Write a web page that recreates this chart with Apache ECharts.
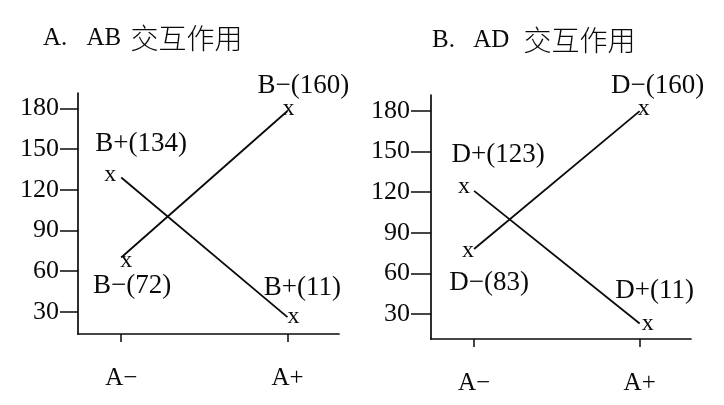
<!DOCTYPE html>
<html>
<head>
<meta charset="utf-8">
<script src="https://cdn.jsdelivr.net/npm/echarts@6/dist/echarts.min.js"></script>
<style>
html,body{margin:0;padding:0;background:#fff;}
#c{width:724px;height:405px;}
</style>
</head>
<body>
<div id="c"></div>
<script>
// ---- data ----
const categories = ['A−', 'A+'];
const yTicks = [30, 60, 90, 120, 150, 180];
const titleA = ['A. ', 'AB ', '交互作用'];
const titleB = ['B. ', 'AD ', '交互作用'];
const abBplus = [129, 26];
const abBminus = [70, 178];
const adDplus = [121, 23];
const adDminus = [78, 180];
const abBplusNotes = ['B+(134)', 'B+(11)'];
const abBminusNotes = ['B−(72)', 'B−(160)'];
const adDplusNotes = ['D+(123)', 'D+(11)'];
const adDminusNotes = ['D−(83)', 'D−(160)'];

// ---- styling helpers ----
const SERIF = 'Liberation Serif';
const CJK = 'Noto Sans CJK SC';
const INK = '#0a0a0a';

function lineSeries(idx, values, markerOffsets) {
  return {
    type: 'line', xAxisIndex: idx, yAxisIndex: idx,
    symbol: 'circle', symbolSize: 1, silent: true, animation: false,
    itemStyle: { color: 'transparent' },
    lineStyle: { color: INK, width: 1.8 },
    label: { show: true, position: 'inside', formatter: 'x', color: INK,
             fontFamily: SERIF, fontSize: 24 },
    data: values.map((v, i) => ({ value: [i, v], label: { offset: markerOffsets[i] } }))
  };
}
function noteSeries(idx, values, notes, noteOffsets) {
  return {
    type: 'scatter', xAxisIndex: idx, yAxisIndex: idx,
    symbolSize: 1, silent: true, animation: false,
    itemStyle: { color: 'transparent' },
    label: { show: true, position: 'inside', color: INK, opacity: 1,
             fontFamily: SERIF, fontSize: 27,
             formatter: p => notes[p.dataIndex] },
    data: values.map((v, i) => ({ value: [i, v], label: { offset: noteOffsets[i] } }))
  };
}
function xAxis(idx) {
  return {
    type: 'value', gridIndex: idx, min: -0.26, max: 1.31,
    splitLine: { show: false },
    axisLine: { show: true, onZero: false, lineStyle: { color: INK, width: 1.7 } },
    axisTick: { show: true, customValues: [0, 1], length: 8, lineStyle: { color: INK, width: 1.5 } },
    axisLabel: { customValues: [0, 1], margin: 32, color: INK, fontFamily: SERIF, fontSize: 25,
                 formatter: v => categories[Math.round(v)] }
  };
}
function yAxis(idx, min, max, margin) {
  return {
    type: 'value', gridIndex: idx, min: min, max: max,
    splitLine: { show: false },
    axisLine: { show: true, onZero: false, lineStyle: { color: INK, width: 1.7 } },
    axisTick: { show: true, customValues: yTicks, length: margin, lineStyle: { color: INK, width: 1.5 } },
    axisLabel: { customValues: yTicks, margin: margin + 1, color: INK, fontFamily: SERIF, fontSize: 26 }
  };
}
function title(parts, left, top, gap1, gap2) {
  return {
    left: left, top: top, padding: 0,
    text: '{a|' + parts[0] + '}{b|' + parts[1] + '}{c|' + parts[2] + '}',
    textStyle: {
      fontWeight: 'normal',
      rich: {
        a: { fontFamily: SERIF, fontSize: 25, color: INK, fontWeight: 'normal' },
        b: { fontFamily: SERIF, fontSize: 25, color: INK, fontWeight: 'normal', padding: [0, 0, 0, gap1] },
        c: { fontFamily: CJK, fontSize: 28, color: INK, fontWeight: 300, padding: [0, 0, 0, gap2] }
      }
    }
  };
}

const chart = echarts.init(document.getElementById('c'));
chart.setOption({
  backgroundColor: '#fff',
  animation: false,
  title: [title(titleA, 43, 24, 13, 3), title(titleB, 432, 26, 12, 8)],
  grid: [
    { left: 78, top: 93, width: 261, height: 241 },
    { left: 431, top: 95, width: 260, height: 244 }
  ],
  xAxis: [xAxis(0), xAxis(1)],
  yAxis: [yAxis(0, 13.6, 191.3, 18), yAxis(1, 11.5, 191.9, 20)],
  series: [
    lineSeries(0, abBplus, [[-11, -3], [6, 0]]),
    lineSeries(0, abBminus, [[5, 3], [1, -2]]),
    lineSeries(1, adDplus, [[-10, -4], [8, 0]]),
    lineSeries(1, adDminus, [[-6, 2], [4, -2]]),
    noteSeries(0, abBplus, abBplusNotes, [[20, -34], [15, -29]]),
    noteSeries(0, abBminus, abBminusNotes, [[11, 28], [16, -25]]),
    noteSeries(1, adDplus, adDplusNotes, [[24, -36], [15, -33]]),
    noteSeries(1, adDminus, adDminusNotes, [[15, 34], [18, -25]])
  ]
});
</script>
</body>
</html>
